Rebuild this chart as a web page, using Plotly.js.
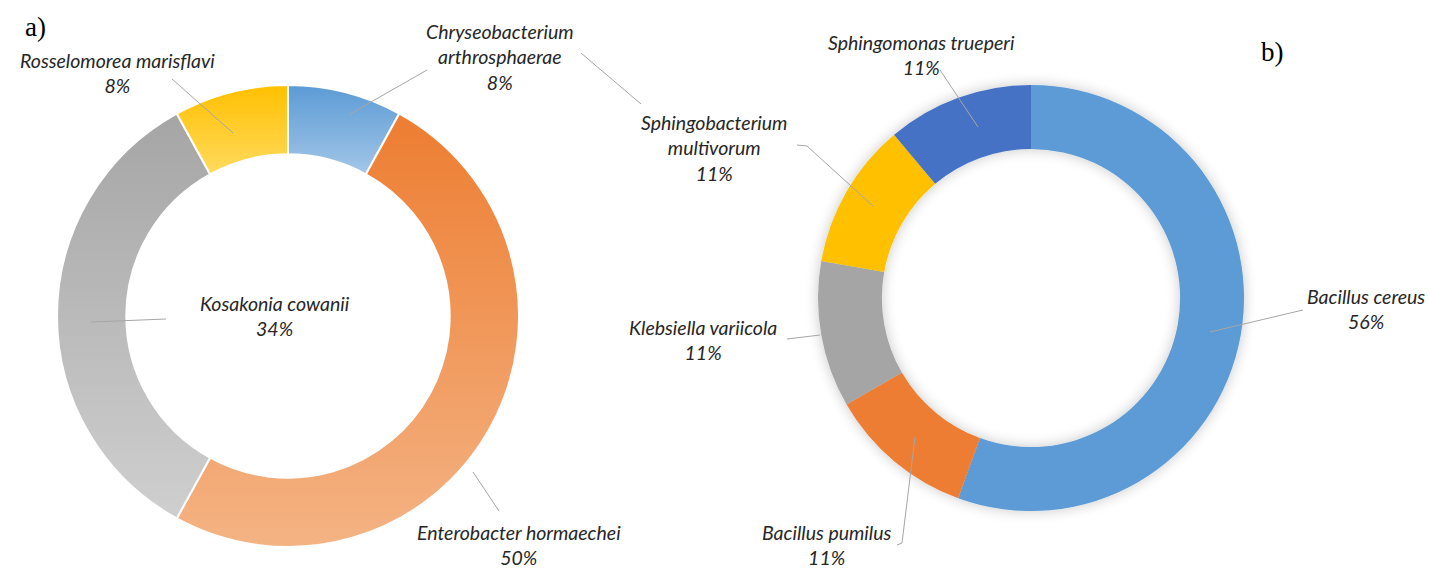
<!DOCTYPE html>
<html>
<head>
<meta charset="utf-8">
<script src="https://cdn.plot.ly/plotly-3.0.1.min.js"></script>
<style>
  html, body { margin: 0; padding: 0; background: #ffffff; }
  #chart { width: 1429px; height: 569px; }
</style>
</head>
<body>
<div id="chart"></div>
<script>
// ---------------- DATA ----------------
const speciesA = ["Chryseobacterium arthrosphaerae", "Enterobacter hormaechei", "Kosakonia cowanii", "Rosselomorea marisflavi"];
const percentA = [8, 50, 34, 8];

const speciesB = ["Bacillus cereus", "Bacillus pumilus", "Klebsiella variicola", "Sphingobacterium multivorum", "Sphingomonas trueperi"];
const percentB = [56, 11, 11, 11, 11];
const countB = [5, 1, 1, 1, 1];

const panelLabels = ["a)", "b)"];

// ---------------- STYLE / LAYOUT ----------------
const W = 1429, H = 569;
const fx = x => x / W;
const fy = y => 1 - y / H;

const colorsA = ["#7aade0", "#f09a5c", "#bababa", "#ffcc33"];
const gradA = [["#5b9bd5", "#a3c6e8"], ["#ed7d31", "#f4b384"], ["#a5a5a5", "#cfcfcf"], ["#ffc000", "#ffda5e"]];
const colorsB = ["#5b9bd5", "#ed7d31", "#a5a5a5", "#ffc000", "#4472c4"];

const labelPosA = [
  {x: 500, y: 57, wrap: ["Chryseobacterium", "arthrosphaerae"]},
  {x: 519, y: 545},
  {x: 275, y: 316},
  {x: 117, y: 73}
];
const leaderA = [
  [[427, 70], [350, 114]],
  [[473, 472], [499, 511]],
  [[91, 322], [166, 319]],
  [[172, 79], [233, 133]]
];
const labelPosB = [
  {x: 1366, y: 309},
  {x: 827, y: 545},
  {x: 703, y: 340},
  {x: 714, y: 148, wrap: ["Sphingobacterium", "multivorum"]},
  {x: 921, y: 55}
];
const leaderB = [
  [[1303, 310], [1210, 332]],
  [[897, 545], [902, 543], [915, 437]],
  [[787, 339], [820, 335]],
  [[797, 145], [807, 146], [873, 206]],
  [[940, 70], [978, 127]]
];
const strayLine = [[581, 53], [641, 104]];

const font = {family: "Lato, 'Open Sans', sans-serif", size: 19.5, color: "#262626"};

function labelText(name, pct, wrap) {
  const lines = wrap ? wrap : [name];
  return "<i>" + lines.join("<br>") + "<br>" + pct + "%</i>";
}

const annotations = [];
speciesA.forEach((n, i) => {
  annotations.push({
    xref: "paper", yref: "paper", x: fx(labelPosA[i].x), y: fy(labelPosA[i].y),
    xanchor: "center", yanchor: "middle", showarrow: false,
    text: labelText(n, percentA[i], labelPosA[i].wrap), font: font, align: "center"
  });
});
speciesB.forEach((n, i) => {
  annotations.push({
    xref: "paper", yref: "paper", x: fx(labelPosB[i].x), y: fy(labelPosB[i].y),
    xanchor: "center", yanchor: "middle", showarrow: false,
    text: labelText(n, percentB[i], labelPosB[i].wrap), font: font, align: "center"
  });
});
annotations.push({xref: "paper", yref: "paper", x: fx(35), y: fy(27), xanchor: "center", yanchor: "middle",
  showarrow: false, text: panelLabels[0], font: {family: "'Liberation Serif', serif", size: 27, color: "#000"}});
annotations.push({xref: "paper", yref: "paper", x: fx(1272), y: fy(52), xanchor: "center", yanchor: "middle",
  showarrow: false, text: panelLabels[1], font: {family: "'Liberation Serif', serif", size: 27, color: "#000"}});

const shapes = [];
function addPolyline(pts) {
  const d = pts.map((p, k) => (k ? "L" : "M") + fx(p[0]) + "," + fy(p[1])).join(" ");
  shapes.push({type: "path", xref: "paper", yref: "paper", path: d, line: {color: "#a6a6a6", width: 1}});
}
leaderA.forEach(addPolyline);
leaderB.forEach(addPolyline);
addPolyline(strayLine);

const traces = [
  {
    type: "pie", labels: speciesA, values: percentA, hole: 0.70, sort: false,
    direction: "clockwise", rotation: 0, textinfo: "none", hoverinfo: "label+percent",
    marker: {colors: colorsA, line: {color: "#ffffff", width: 2}},
    domain: {x: [fx(57), fx(519)], y: [fy(547), fy(85)]}, showlegend: false
  },
  {
    type: "pie", labels: speciesB, values: countB, hole: 0.70, sort: false,
    direction: "clockwise", rotation: 0, textinfo: "none", hoverinfo: "label+percent",
    marker: {colors: colorsB, line: {color: "#ffffff", width: 0}},
    domain: {x: [fx(818), fx(1244)], y: [fy(511), fy(85)]}, showlegend: false
  }
];

const layout = {
  width: W, height: H, margin: {l: 0, r: 0, t: 0, b: 0},
  paper_bgcolor: "#ffffff", plot_bgcolor: "#ffffff",
  showlegend: false, annotations: annotations, shapes: shapes
};

Plotly.newPlot("chart", traces, layout, {staticPlot: true}).then(gd => {
  const svgNS = "http://www.w3.org/2000/svg";
  const svg = gd.querySelector(".main-svg");
  let defs = svg.querySelector("defs");
  if (!defs) { defs = document.createElementNS(svgNS, "defs"); svg.insertBefore(defs, svg.firstChild); }
  gradA.forEach((g, i) => {
    const lg = document.createElementNS(svgNS, "linearGradient");
    lg.setAttribute("id", "gradA" + i);
    lg.setAttribute("x1", "0"); lg.setAttribute("y1", "0");
    lg.setAttribute("x2", "0"); lg.setAttribute("y2", "1");
    [[0, g[0]], [1, g[1]]].forEach(s => {
      const st = document.createElementNS(svgNS, "stop");
      st.setAttribute("offset", s[0]); st.setAttribute("stop-color", s[1]);
      lg.appendChild(st);
    });
    defs.appendChild(lg);
  });
  const f = document.createElementNS(svgNS, "filter");
  f.setAttribute("id", "ringShadow");
  f.setAttribute("x", "-20%"); f.setAttribute("y", "-20%"); f.setAttribute("width", "140%"); f.setAttribute("height", "140%");
  f.innerHTML = '<feGaussianBlur in="SourceAlpha" stdDeviation="7"/>' +
    '<feComponentTransfer><feFuncA type="linear" slope="0.22"/></feComponentTransfer>' +
    '<feMerge><feMergeNode/><feMergeNode in="SourceGraphic"/></feMerge>';
  defs.appendChild(f);

  const pieTraces = gd.querySelectorAll(".pielayer .trace");
  if (pieTraces[0]) {
    pieTraces[0].querySelectorAll(".slice path.surface").forEach((p, i) => {
      p.style.fill = "url(#gradA" + i + ")";
    });
  }
  if (pieTraces[1]) {
    pieTraces[1].setAttribute("filter", "url(#ringShadow)");
  }
});
</script>
</body>
</html>
